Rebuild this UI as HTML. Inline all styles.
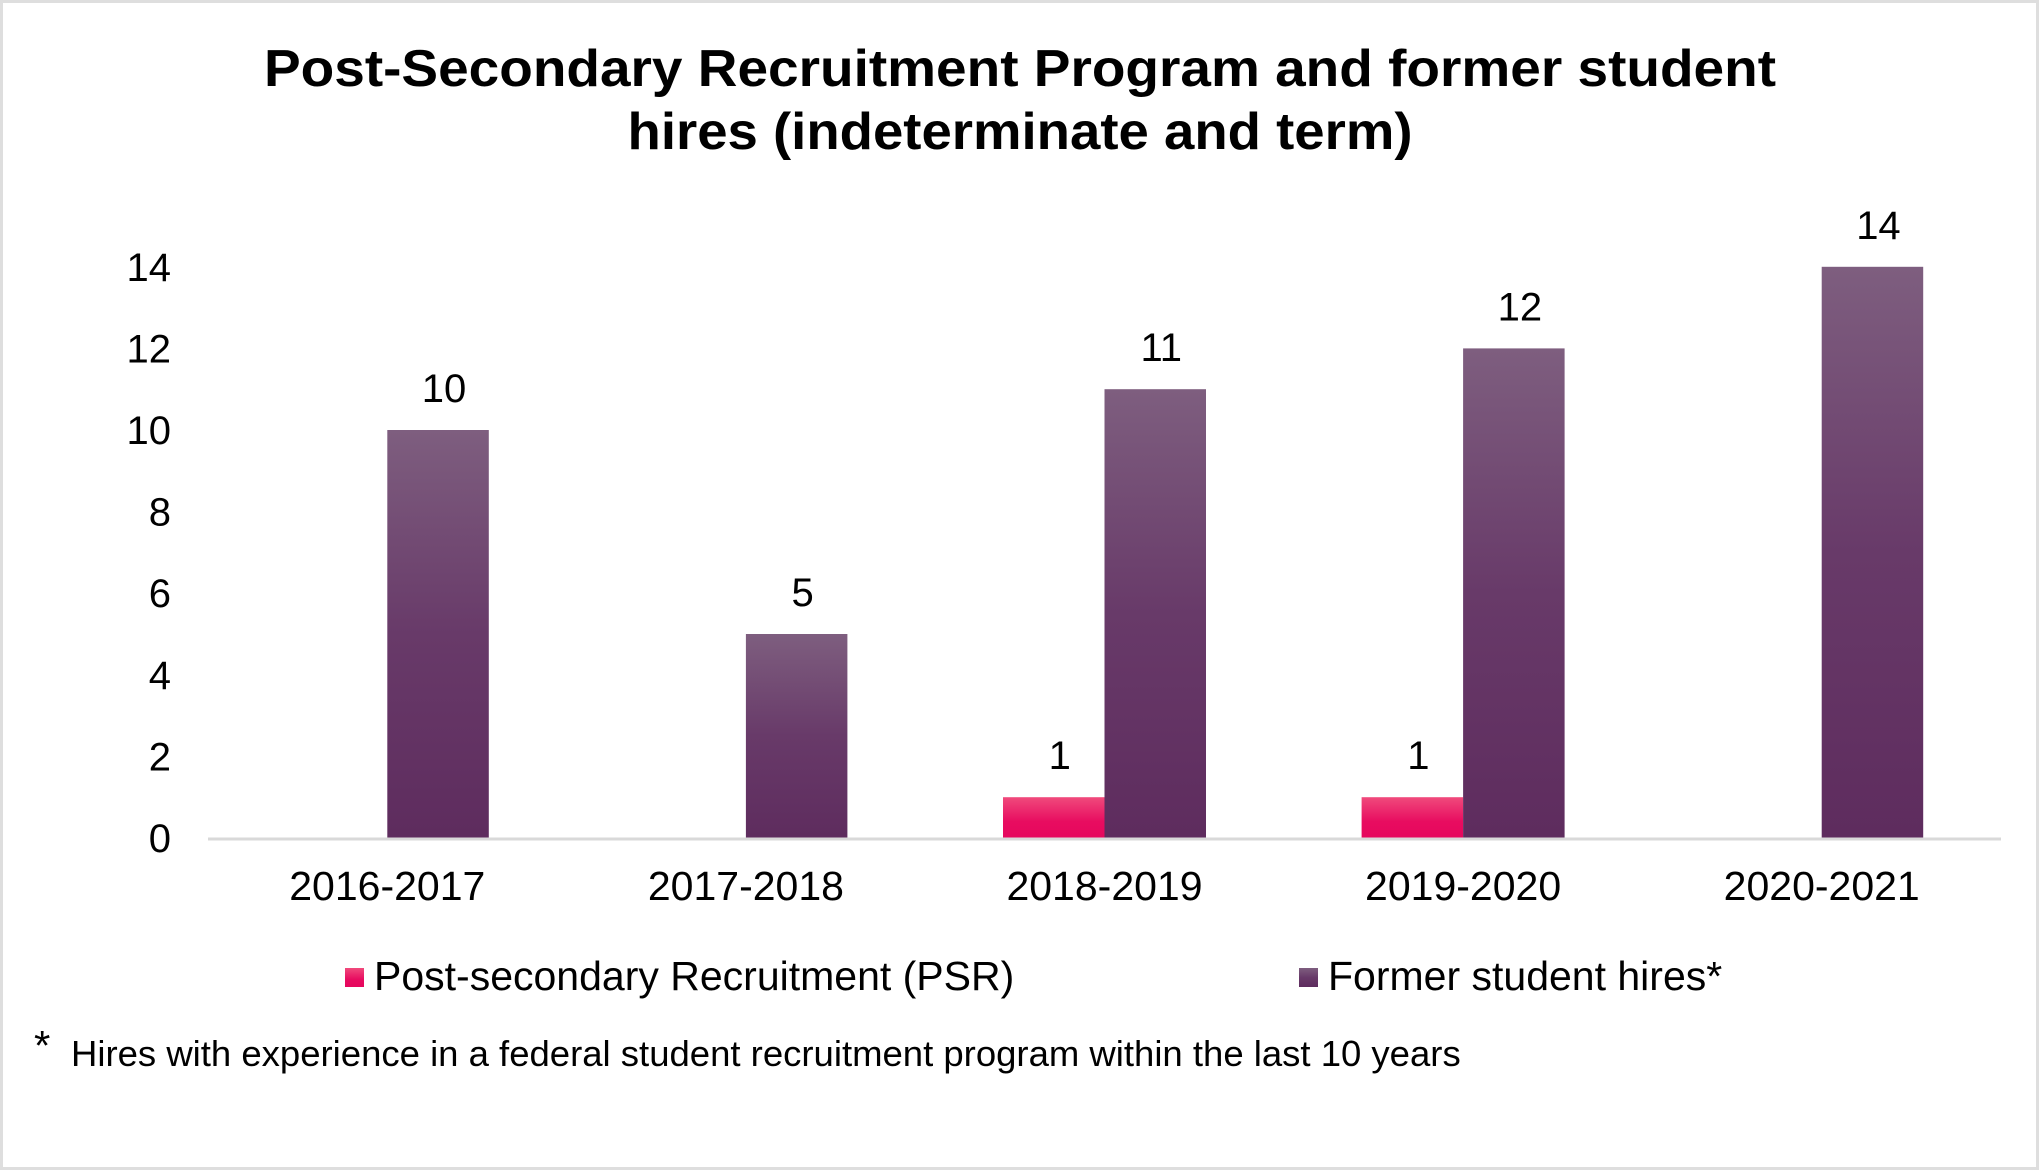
<!DOCTYPE html>
<html><head><meta charset="utf-8"><style>
html,body{margin:0;padding:0;background:#fff;}
svg{display:block;font-family:"Liberation Sans",Arial,sans-serif;}
</style></head><body>
<svg id="chart" width="2041" height="1172" viewBox="0 0 2041 1172" xmlns="http://www.w3.org/2000/svg">
<defs>
<linearGradient id="gPurple" x1="0" y1="0" x2="0" y2="1"><stop offset="0" stop-color="#7e5e7f"/><stop offset="0.5" stop-color="#683a69"/><stop offset="1" stop-color="#5e2c5e"/></linearGradient>
<linearGradient id="gPink" x1="0" y1="0" x2="0" y2="1"><stop offset="0" stop-color="#f04a7c"/><stop offset="0.6" stop-color="#e80c60"/><stop offset="1" stop-color="#e6075d"/></linearGradient>
</defs>
<rect x="1.5" y="1.5" width="2036" height="1167" fill="#fff" stroke="#dedede" stroke-width="3"/>
<text x="1020" y="86" text-anchor="middle" font-size="52" font-weight="bold" fill="#000" textLength="1512" lengthAdjust="spacingAndGlyphs">Post-Secondary Recruitment Program and former student</text>
<text x="1020" y="149" text-anchor="middle" font-size="52" font-weight="bold" fill="#000" textLength="785" lengthAdjust="spacingAndGlyphs">hires (indeterminate and term)</text>
<g id="yaxis"></g>
<g id="bars"></g>
<g id="xaxis"></g>
<g>
<rect x="345" y="968" width="19" height="19" fill="url(#gPink)"/>
<text x="374" y="990" font-size="41" fill="#000">Post-secondary Recruitment (PSR)</text>
<rect x="1299" y="968" width="19" height="19" fill="url(#gPurple)"/>
<text x="1328" y="990" font-size="41" fill="#000">Former student hires*</text>
</g>
<text x="34" y="1060" font-size="42" fill="#000">*</text>
<text x="71" y="1066" font-size="36.5" fill="#000">Hires with experience in a federal student recruitment program within the last 10 years</text>
</svg>
<script>
const categories = ["2016-2017","2017-2018","2018-2019","2019-2020","2020-2021"];
const psrValues = [0,0,1,1,0];
const formerValues = [10,5,11,12,14];
const yTicks = [0,2,4,6,8,10,12,14];

const NS="http://www.w3.org/2000/svg";
const plotLeft=208, plotRight=2001, baseY=838, pxPerUnit=40.8, barW=101.5;
const catW=(plotRight-plotLeft)/categories.length;
function xCenter(i){return plotLeft+catW*(i+0.5);}
function yPos(v){return baseY-v*pxPerUnit;}
function mk(tag,attrs,parent,txt){const e=document.createElementNS(NS,tag);for(const k in attrs)e.setAttribute(k,attrs[k]);if(txt!==undefined)e.textContent=txt;parent.appendChild(e);return e;}
const ya=document.getElementById('yaxis'), bg=document.getElementById('bars'), xa=document.getElementById('xaxis');
yTicks.forEach(t=>{
  const e=mk('text',{x:171,y:yPos(t)+14,'text-anchor':'end','font-size':40,fill:'#000'},ya,String(t));
  
  
});
const axisLine=mk('line',{x1:plotLeft,x2:plotRight,y1:baseY+1,y2:baseY+1,stroke:'#d9d9d9','stroke-width':3},xa);


categories.forEach((c,i)=>{
  const cx=xCenter(i);
  const l=mk('text',{x:cx,y:900,'text-anchor':'middle','font-size':41,fill:'#000'},xa,c);
  
  
  const p=psrValues[i];
  if(p>0){
    const r=mk('rect',{x:cx-barW,y:yPos(p),width:barW,height:p*pxPerUnit,fill:'url(#gPink)'},bg);
    
    
    const t=mk('text',{x:cx-barW/2+6,y:yPos(p)-28,'text-anchor':'middle','font-size':40,fill:'#000'},bg,String(p));
    
    
  }
  const f=formerValues[i];
  if(f>0){
    const r=mk('rect',{x:cx,y:yPos(f),width:barW,height:f*pxPerUnit,fill:'url(#gPurple)'},bg);
    
    
    const t=mk('text',{x:cx+barW/2+6,y:yPos(f)-28,'text-anchor':'middle','font-size':40,fill:'#000'},bg,String(f));
    
    
  }
});
</script>
</body></html>
